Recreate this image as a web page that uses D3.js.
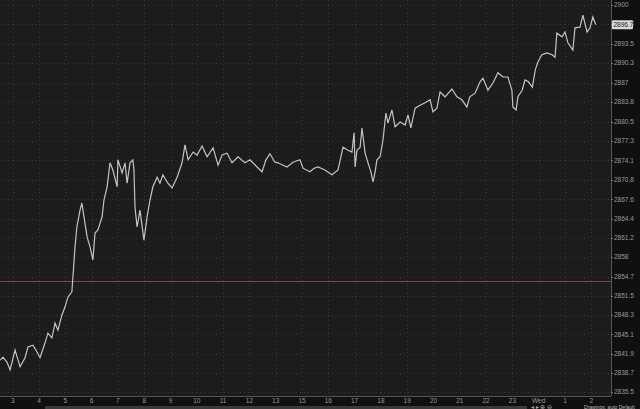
<!DOCTYPE html>
<html>
<head>
<meta charset="utf-8">
<script src="https://cdn.jsdelivr.net/npm/d3@7"></script>
<style>
  html, body { margin: 0; padding: 0; background: #101010; }
  svg { display: block; font-family: "Liberation Sans", Arial, sans-serif; }
</style>
</head>
<body>
<div id="chart"></div>
<script>
// hour labels along the bottom (14 is not shown on the source chart)
const hourLabels = ["3","4","5","6","7","8","9","10","11","12","13","15","16","17","18","19","20","21","22","23","Wed","1","2"];

// price axis tick values
const priceTicks = [2835.5, 2838.7, 2841.9, 2845.1, 2848.3, 2851.5, 2854.7, 2858, 2861.2, 2864.4,
    2867.6, 2870.8, 2874.1, 2877.3, 2880.5, 2883.8, 2887, 2890.3, 2893.5, 2896.8, 2900];

// time in hours from the "3" tick, and traded price
const times = [-0.48,-0.37,-0.22,-0.10,0.09,0.28,0.47,0.58,0.77,0.92,1.04,1.23,1.34,1.49,1.61,1.72,1.87,1.99,2.10,2.25,
    2.29,2.37,2.44,2.56,2.63,2.71,2.83,2.94,3.05,3.13,3.24,3.40,3.47,3.59,3.70,3.81,3.97,4.00,4.16,4.27,
    4.35,4.46,4.57,4.61,4.65,4.73,4.84,4.99,5.11,5.22,5.33,5.49,5.60,5.71,5.90,6.06,6.25,6.44,6.55,6.67,
    6.86,7.01,7.20,7.39,7.62,7.81,7.96,8.15,8.34,8.57,8.83,9.02,9.29,9.48,9.63,9.78,9.97,10.09,10.28,10.43,
    10.66,10.92,11.04,11.30,11.46,11.61,11.87,12.14,12.37,12.56,12.75,12.90,12.98,13.02,13.09,13.21,13.28,13.40,13.51,13.62,
    13.70,13.78,13.85,13.97,14.08,14.19,14.27,14.42,14.54,14.73,14.92,15.03,15.14,15.30,15.49,15.68,15.87,15.98,16.13,16.25,
    16.44,16.70,16.89,17.08,17.27,17.38,17.58,17.77,17.88,18.07,18.26,18.45,18.64,18.83,18.98,19.02,19.14,19.21,19.37,19.48,
    19.61,19.76,19.87,19.97,20.12,20.31,20.51,20.62,20.69,20.89,21.00,21.11,21.30,21.38,21.57,21.68,21.84,21.95,22.06,22.17];

const prices = [2840.8,2841.3,2840.5,2839.2,2842.5,2839.7,2841.2,2843.0,2843.3,2842.2,2841.2,2843.7,2845.3,2844.5,2847.0,2845.8,2848.3,2849.7,2851.3,2852.2,
    2854.7,2859.7,2863.0,2865.8,2867.0,2864.7,2861.3,2859.7,2857.5,2862.0,2862.5,2864.7,2867.5,2869.7,2873.7,2872.5,2869.7,2874.2,2872.0,2873.7,
    2870.3,2873.7,2874.2,2872.5,2866.3,2863.0,2865.8,2860.8,2864.7,2867.5,2869.7,2871.3,2870.3,2871.7,2870.3,2869.5,2871.3,2873.7,2876.7,2874.2,
    2875.5,2875.0,2876.5,2874.7,2876.2,2873.3,2875.0,2875.3,2873.7,2874.7,2873.7,2874.2,2873.0,2872.2,2874.2,2875.2,2873.8,2873.7,2873.3,2873.0,
    2873.8,2874.2,2872.8,2872.2,2872.8,2873.0,2872.5,2871.7,2872.5,2876.3,2875.8,2875.5,2878.7,2873.0,2875.8,2876.3,2879.5,2875.3,2873.7,2872.2,
    2870.5,2872.2,2874.2,2874.7,2877.5,2882.0,2880.3,2882.5,2879.7,2880.5,2880.0,2881.7,2879.5,2882.8,2883.3,2883.7,2884.2,2882.2,2882.8,2885.5,
    2884.7,2886.0,2884.7,2884.2,2883.0,2884.7,2885.3,2887.2,2887.8,2885.8,2887.0,2888.7,2888.0,2888.0,2885.8,2883.0,2882.5,2884.7,2885.8,2887.5,
    2887.2,2886.3,2889.2,2890.5,2891.7,2892.0,2891.7,2891.3,2895.3,2894.7,2895.5,2893.7,2892.5,2896.2,2896.3,2898.3,2895.5,2896.2,2898.0,2896.7];

const refLevel = 2854.0;
const lastPrice = 2896.7;

const width = 640, height = 409;
const plotRight = 611, plotBottom = 396;

const svg = d3.select("#chart").append("svg")
    .attr("width", width)
    .attr("height", height);

// backgrounds
svg.append("rect").attr("x", 0).attr("y", 0).attr("width", width).attr("height", height).attr("fill", "#101010");
svg.append("rect").attr("x", 0).attr("y", 0).attr("width", plotRight).attr("height", plotBottom).attr("fill", "#1c1c1c");

const xScale = d3.scaleLinear().domain([0, hourLabels.length - 1]).range([12.7, 591.3]);
const yScale = d3.scaleLinear().domain([2835.5, 2900]).range([392, 5]);

// grid
svg.selectAll(".vGrid")
    .data(hourLabels)
    .enter().append("line")
    .attr("class", "vGrid")
    .attr("x1", (d, i) => Math.round(xScale(i)) + 0.5)
    .attr("x2", (d, i) => Math.round(xScale(i)) + 0.5)
    .attr("y1", 0)
    .attr("y2", plotBottom)
    .attr("stroke", "#363636")
    .attr("stroke-dasharray", "1,3");

svg.selectAll(".hGrid")
    .data(priceTicks)
    .enter().append("line")
    .attr("class", "hGrid")
    .attr("x1", 0)
    .attr("x2", plotRight)
    .attr("y1", d => Math.round(yScale(d)) + 0.5)
    .attr("y2", d => Math.round(yScale(d)) + 0.5)
    .attr("stroke", "#363636")
    .attr("stroke-dasharray", "1,3");

// reference level
svg.append("line")
    .attr("x1", 0)
    .attr("x2", plotRight)
    .attr("y1", Math.round(yScale(refLevel)) + 0.5)
    .attr("y2", Math.round(yScale(refLevel)) + 0.5)
    .attr("stroke", "#8c4038")
    .attr("stroke-width", 1);

// price line
const series = times.map((t, i) => ({ t: t, p: prices[i] }));
const line = d3.line()
    .x(d => xScale(d.t))
    .y(d => yScale(d.p));

svg.append("path")
    .datum(series)
    .attr("fill", "none")
    .attr("stroke", "#c4c4c4")
    .attr("stroke-width", 1.2)
    .attr("d", line);

// axis borders
svg.append("line")
    .attr("x1", plotRight + 0.5).attr("x2", plotRight + 0.5)
    .attr("y1", 0).attr("y2", plotBottom)
    .attr("stroke", "#555");
svg.append("line")
    .attr("x1", 0).attr("x2", plotRight)
    .attr("y1", plotBottom + 0.5).attr("y2", plotBottom + 0.5)
    .attr("stroke", "#555");

// price labels
svg.selectAll(".priceLabel")
    .data(priceTicks)
    .enter().append("text")
    .attr("class", "priceLabel")
    .attr("x", plotRight + 3)
    .attr("y", d => yScale(d))
    .attr("dy", "0.35em")
    .attr("font-size", "6.5px")
    .attr("fill", "#9a9a9a")
    .text(d => d);

svg.selectAll(".priceTick")
    .data(priceTicks)
    .enter().append("line")
    .attr("class", "priceTick")
    .attr("x1", plotRight)
    .attr("x2", plotRight + 2)
    .attr("y1", d => Math.round(yScale(d)) + 0.5)
    .attr("y2", d => Math.round(yScale(d)) + 0.5)
    .attr("stroke", "#777");

// current price tag
const tagY = yScale(lastPrice);
svg.append("rect")
    .attr("x", plotRight + 1)
    .attr("y", tagY - 4.5)
    .attr("width", 21)
    .attr("height", 9)
    .attr("rx", 1)
    .attr("fill", "#d9d9d9");
svg.append("text")
    .attr("x", plotRight + 2.5)
    .attr("y", tagY)
    .attr("dy", "0.35em")
    .attr("font-size", "6.5px")
    .attr("fill", "#222")
    .text(lastPrice);

// hour labels
svg.selectAll(".hourLabel")
    .data(hourLabels)
    .enter().append("text")
    .attr("class", "hourLabel")
    .attr("x", (d, i) => xScale(i))
    .attr("y", 403)
    .attr("text-anchor", "middle")
    .attr("font-size", "6.5px")
    .attr("fill", "#9a9a9a")
    .text(d => d);

// scroll bar and toolbar
svg.append("rect")
    .attr("x", 45).attr("y", 406)
    .attr("width", 482).attr("height", 3)
    .attr("fill", "#3a3a3a");
svg.append("text")
    .attr("x", 531).attr("y", 408.5)
    .attr("font-size", "5.5px")
    .attr("fill", "#aaa")
    .text("\u25C2 \u25B8 \u2295 \u2296");
svg.append("text")
    .attr("x", 584).attr("y", 408.5)
    .attr("font-size", "5px")
    .attr("fill", "#bbb")
    .text("Drawings: auto Default");
</script>
</body>
</html>
